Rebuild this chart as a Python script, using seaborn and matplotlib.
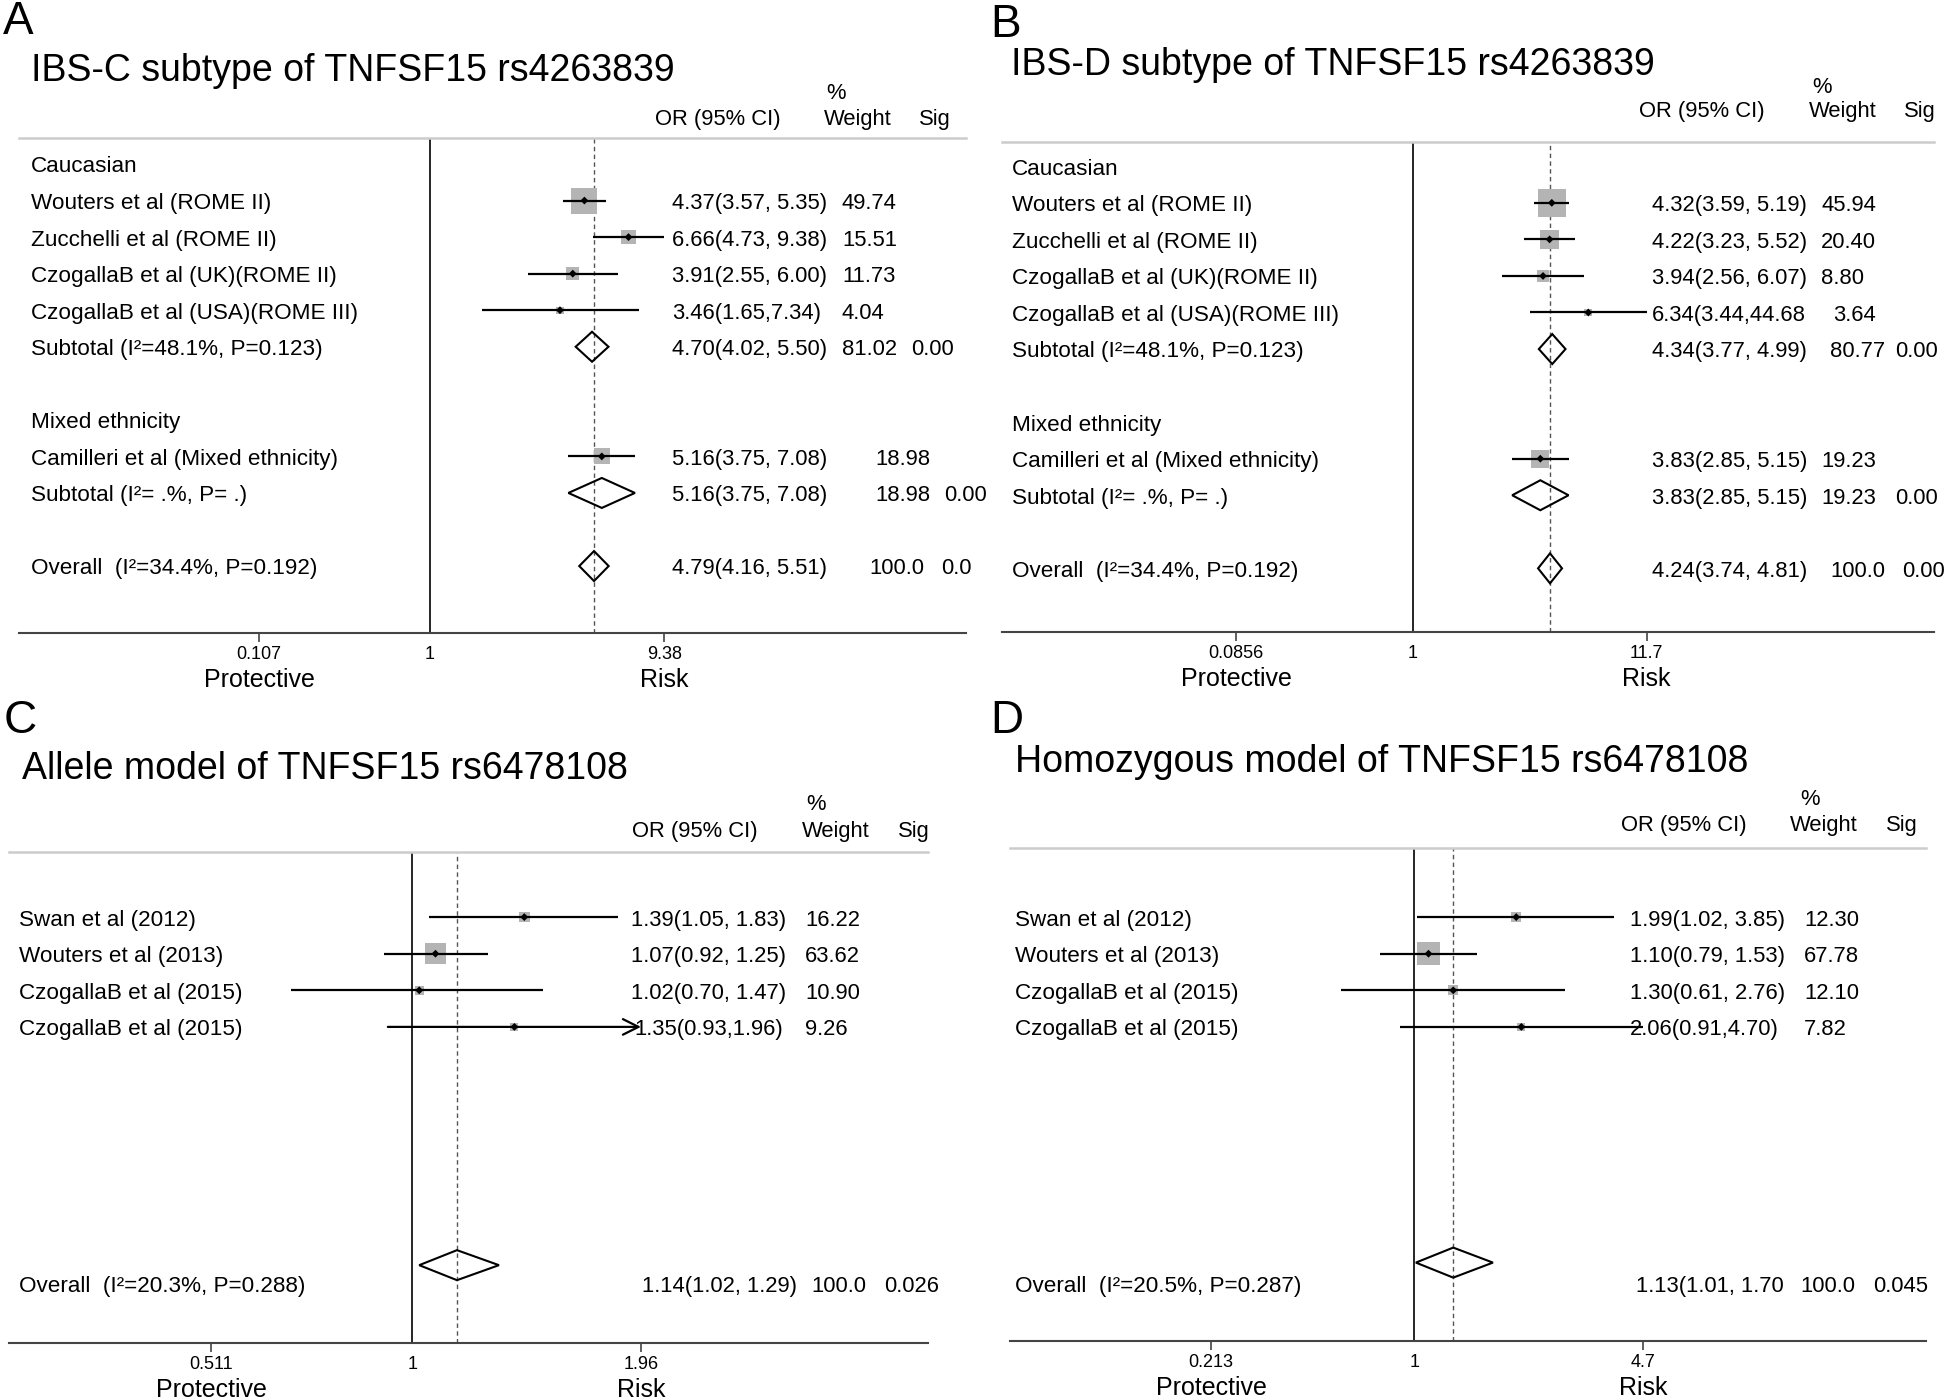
import numpy as np
import pandas as pd
import matplotlib
matplotlib.use("Agg")
import matplotlib.pyplot as plt
import seaborn as sns

sns.set_theme(style="white")
plt.rcParams["font.family"] = ["Liberation Sans", "DejaVu Sans"]
plt.rcParams["text.color"] = "black"
plt.rcParams["xtick.color"] = "black"

W, H = 1946, 1400
nan = np.nan

# ---------------- data ----------------
# A: IBS-C subtype of TNFSF15 rs4263839
a_labels = ["Caucasian", "Wouters et al (ROME II)", "Zucchelli et al (ROME II)",
            "CzogallaB et al (UK)(ROME II)", "CzogallaB et al (USA)(ROME III)",
            "Subtotal (I²=48.1%, P=0.123)", "", "Mixed ethnicity",
            "Camilleri et al (Mixed ethnicity)", "Subtotal (I²= .%, P= .)", "",
            "Overall  (I²=34.4%, P=0.192)"]
a_kind = ["group", "study", "study", "study", "study", "sub", "", "group", "study", "sub", "", "overall"]
a_or = [nan, 4.37, 6.66, 3.91, 3.46, 4.70, nan, nan, 5.16, 5.16, nan, 4.79]
a_lo = [nan, 3.57, 4.73, 2.55, 1.65, 4.02, nan, nan, 3.75, 3.75, nan, 4.16]
a_hi = [nan, 5.35, 9.38, 6.00, 7.34, 5.50, nan, nan, 7.08, 7.08, nan, 5.51]
a_ci_text = ["", "4.37(3.57, 5.35)", "6.66(4.73, 9.38)", "3.91(2.55, 6.00)", "3.46(1.65,7.34)",
             "4.70(4.02, 5.50)", "", "", "5.16(3.75, 7.08)", "5.16(3.75, 7.08)", "", "4.79(4.16, 5.51)"]
a_weight = ["", "49.74", "15.51", "11.73", "4.04", "81.02", "", "", "18.98", "18.98", "", "100.0"]
a_sig = ["", "", "", "", "", "0.00", "", "", "", "0.00", "", "0.0"]
a_ticks = ["0.107", "1", "9.38"]

# B: IBS-D subtype of TNFSF15 rs4263839
b_labels = a_labels
b_kind = a_kind
b_or = [nan, 4.32, 4.22, 3.94, 6.34, 4.34, nan, nan, 3.83, 3.83, nan, 4.24]
b_lo = [nan, 3.59, 3.23, 2.56, 3.44, 3.77, nan, nan, 2.85, 2.85, nan, 3.74]
b_hi = [nan, 5.19, 5.52, 6.07, 44.68, 4.99, nan, nan, 5.15, 5.15, nan, 4.81]
b_ci_text = ["", "4.32(3.59, 5.19)", "4.22(3.23, 5.52)", "3.94(2.56, 6.07)", "6.34(3.44,44.68",
             "4.34(3.77, 4.99)", "", "", "3.83(2.85, 5.15)", "3.83(2.85, 5.15)", "", "4.24(3.74, 4.81)"]
b_weight = ["", "45.94", "20.40", "8.80", "3.64", "80.77", "", "", "19.23", "19.23", "", "100.0"]
b_sig = ["", "", "", "", "", "0.00", "", "", "", "0.00", "", "0.00"]
b_ticks = ["0.0856", "1", "11.7"]

# C: Allele model of TNFSF15 rs6478108
c_labels = ["", "Swan et al (2012)", "Wouters et al (2013)", "CzogallaB et al (2015)",
            "CzogallaB et al (2015)", "", "", "", "", "", "", "Overall  (I²=20.3%, P=0.288)"]
c_kind = ["", "study", "study", "study", "study", "", "", "", "", "", "", "overall"]
c_or = [nan, 1.39, 1.07, 1.02, 1.35, nan, nan, nan, nan, nan, nan, 1.14]
c_lo = [nan, 1.05, 0.92, 0.70, 0.93, nan, nan, nan, nan, nan, nan, 1.02]
c_hi = [nan, 1.83, 1.25, 1.47, 1.96, nan, nan, nan, nan, nan, nan, 1.29]
c_ci_text = ["", "1.39(1.05, 1.83)", "1.07(0.92, 1.25)", "1.02(0.70, 1.47)", "1.35(0.93,1.96)",
             "", "", "", "", "", "", "1.14(1.02, 1.29)"]
c_weight = ["", "16.22", "63.62", "10.90", "9.26", "", "", "", "", "", "", "100.0"]
c_sig = ["", "", "", "", "", "", "", "", "", "", "", "0.026"]
c_ticks = ["0.511", "1", "1.96"]

# D: Homozygous model of TNFSF15 rs6478108
d_labels = c_labels[:11] + ["Overall  (I²=20.5%, P=0.287)"]
d_kind = c_kind
d_or = [nan, 1.99, 1.10, 1.30, 2.06, nan, nan, nan, nan, nan, nan, 1.30]
d_lo = [nan, 1.02, 0.79, 0.61, 0.91, nan, nan, nan, nan, nan, nan, 1.01]
d_hi = [nan, 3.85, 1.53, 2.76, 4.70, nan, nan, nan, nan, nan, nan, 1.70]
d_ci_text = ["", "1.99(1.02, 3.85)", "1.10(0.79, 1.53)", "1.30(0.61, 2.76)", "2.06(0.91,4.70)",
             "", "", "", "", "", "", "1.13(1.01, 1.70"]
d_weight = ["", "12.30", "67.78", "12.10", "7.82", "", "", "", "", "", "", "100.0"]
d_sig = ["", "", "", "", "", "", "", "", "", "", "", "0.045"]
d_ticks = ["0.213", "1", "4.7"]

titles = ["IBS-C subtype of TNFSF15 rs4263839", "IBS-D subtype of TNFSF15 rs4263839",
          "Allele model of TNFSF15 rs6478108", "Homozygous model of TNFSF15 rs6478108"]
letters = ["A", "B", "C", "D"]

# ---------------- layout (figure pixels) ----------------
layouts = [
    dict(left=19, right=966, top=138, bottom=633, x1=430, k=104.7, row0=164, sp=36.55,
         lo_tick_px=259, label_x=31, ci_x=672, wt_x=842, sig_x=911,
         wt_over={8: 875, 9: 875, 11: 869}, sig_over={9: 944, 11: 941},
         head_x=(655, 826, 824, 919), head_y=(117, 91), title_xy=(31, 71), letter_xy=(3, 22),
         box_c=7.0, dia_dy=0.0, arrow_rows=[]),
    dict(left=1002, right=1934, top=142, bottom=632, x1=1412.5, k=95.2, row0=166.3, sp=36.55,
         lo_tick_px=1236, label_x=1012, ci_x=1652, wt_x=1821, sig_x=1895,
         wt_over={4: 1833, 5: 1830, 11: 1830}, sig_over={11: 1902},
         head_x=(1639, 1812, 1809, 1904), head_y=(109, 85), title_xy=(1011, 65), letter_xy=(990, 25),
         box_c=9.0, dia_dy=0.0, arrow_rows=[]),
    dict(left=9, right=928, top=852, bottom=1343, x1=412.5, k=339.5, row0=880.5, sp=36.6,
         lo_tick_px=211, label_x=19, ci_x=631, wt_x=805, sig_x=884,
         wt_over={11: 811}, sig_over={}, ci_over={4: 634, 11: 642},
         head_x=(632, 806, 802, 898), head_y=(829, 802), title_xy=(22, 769), letter_xy=(4, 721),
         box_c=3.6, dia_dy=-0.49, arrow_rows=[4]),
    dict(left=1010, right=1926, top=848, bottom=1341, x1=1414.4, k=148.0, row0=880.5, sp=36.6,
         lo_tick_px=1211, label_x=1015, ci_x=1630, wt_x=1804, sig_x=1873,
         wt_over={11: 1800}, sig_over={}, ci_over={11: 1636},
         head_x=(1621, 1800, 1790, 1886), head_y=(823, 797), title_xy=(1015, 762), letter_xy=(990, 721),
         box_c=4.0, dia_dy=-0.56, arrow_rows=[]),
]

panels = [
    (a_labels, a_kind, a_or, a_lo, a_hi, a_ci_text, a_weight, a_sig, a_ticks),
    (b_labels, b_kind, b_or, b_lo, b_hi, b_ci_text, b_weight, b_sig, b_ticks),
    (c_labels, c_kind, c_or, c_lo, c_hi, c_ci_text, c_weight, c_sig, c_ticks),
    (d_labels, d_kind, d_or, d_lo, d_hi, d_ci_text, d_weight, d_sig, d_ticks),
]

TXT = 15.8     # table numbers / headers
LBL = 16.2     # study labels
DY = 0.08      # glyph centre sits a touch below the text box centre
fig = plt.figure(figsize=(W / 100, H / 100), dpi=100)


def draw_panel(p, data, title, letter):
    labels, kind, orr, lo, hi, ci_text, weight, sig, ticks = data
    row = lambda ypx: (ypx - p["row0"]) / p["sp"]
    xval = lambda xpx: np.exp((xpx - p["x1"]) / p["k"])

    ax = fig.add_axes([p["left"] / W, 1 - p["bottom"] / H,
                       (p["right"] - p["left"]) / W, (p["bottom"] - p["top"]) / H])
    ax.set_xscale("log")

    df = pd.DataFrame(dict(row=np.arange(len(labels)), kind=kind, orr=orr, lo=lo, hi=hi,
                           wtxt=weight))
    st = df[df.kind == "study"].copy()
    st["w"] = st.wtxt.astype(float)
    clip_hi = float(ticks[2])

    # weight boxes
    wmin, wmax = st.w.min(), st.w.max()
    sns.scatterplot(data=st, x="orr", y="row", size="w", sizes=(p["box_c"] * wmin, p["box_c"] * wmax),
                    size_norm=(wmin, wmax), marker="s", color="#b4b4b4", edgecolor="none",
                    legend=False, ax=ax, zorder=2)
    # confidence intervals
    for _, r in st.iterrows():
        if r.row in p["arrow_rows"]:
            ax.annotate("", xy=(r.hi, r.row), xytext=(r.lo, r.row),
                        arrowprops=dict(arrowstyle="->", lw=1.6, color="black", mutation_scale=28,
                                        shrinkA=0, shrinkB=0), zorder=3)
        else:
            ax.hlines(r.row, r.lo, min(r.hi, clip_hi), color="black", lw=1.6, zorder=3)
    sns.scatterplot(data=st, x="orr", y="row", marker="D", s=16, color="black",
                    edgecolor="none", legend=False, ax=ax, zorder=4)

    # pooled diamonds
    pooled = df[df.kind.isin(["sub", "overall"])]
    for _, r in pooled.iterrows():
        yc = r.row + (p["dia_dy"] if r.kind == "overall" else 0.0)
        h = 0.41
        ax.fill([r.lo, r.orr, r.hi, r.orr, r.lo], [yc, yc - h, yc, yc + h, yc],
                facecolor="none", edgecolor="black", lw=1.5, zorder=5)

    overall = df[df.kind == "overall"].orr.iloc[0]
    ax.axvline(1, color="black", lw=1.2, zorder=1)
    ax.axvline(overall, color="#555555", lw=1.0, ls=(0, (3.2, 2.4)), zorder=1)

    ax.set_xlim(xval(p["left"]), xval(p["right"]))
    ax.set_ylim(row(p["bottom"]), row(p["top"]))
    ax.set_xlabel("")
    ax.set_ylabel("")
    ax.set_yticks([])

    # axis: ticks and labels
    tick_pos = [xval(p["lo_tick_px"]), 1.0, clip_hi]
    ax.set_xticks(tick_pos)
    ax.set_xticklabels(ticks)
    ax.xaxis.set_minor_locator(matplotlib.ticker.NullLocator())
    ax.tick_params(axis="x", bottom=True, length=6.5, width=1.2, color="#444444",
                   labelsize=13, labelcolor="black", pad=3)
    ax.xaxis.get_major_ticks()[1].tick1line.set_visible(False)
    for s in ["left", "right"]:
        ax.spines[s].set_visible(False)
    ax.spines["bottom"].set_color("#444444")
    ax.spines["bottom"].set_linewidth(1.5)
    ax.spines["top"].set_color("#cccccc")
    ax.spines["top"].set_linewidth(1.8)
    for xv, txt in [(tick_pos[0], "Protective"), (tick_pos[2], "Risk")]:
        ax.annotate(txt, xy=(xv, 0), xycoords=("data", "axes fraction"), xytext=(0, -33.5),
                    textcoords="offset points", ha="center", va="center", fontsize=18)

    # table text
    ci_over = p.get("ci_over", {})
    for i in range(len(labels)):
        y = i + DY
        if labels[i]:
            ax.text(xval(p["label_x"]), y, labels[i], ha="left", va="center", fontsize=LBL)
        if ci_text[i]:
            ax.text(xval(ci_over.get(i, p["ci_x"])), y, ci_text[i], ha="left", va="center", fontsize=TXT)
        if weight[i]:
            ax.text(xval(p["wt_over"].get(i, p["wt_x"])), y, weight[i], ha="left", va="center",
                    fontsize=TXT)
        if sig[i]:
            ax.text(xval(p["sig_over"].get(i, p["sig_x"])), y, sig[i], ha="left", va="center",
                    fontsize=TXT)

    hx = p["head_x"]
    hy0, hy1 = row(p["head_y"][0]) + DY, row(p["head_y"][1]) + DY
    ax.text(xval(hx[0]), hy0, "OR (95% CI)", ha="left", va="center", fontsize=TXT)
    ax.text(xval(hx[1]), hy1, "%", ha="left", va="center", fontsize=TXT)
    ax.text(xval(hx[2]), hy0, "Weight", ha="left", va="center", fontsize=TXT)
    ax.text(xval(hx[3]), hy0, "Sig", ha="left", va="center", fontsize=TXT)

    tx, ty = p["title_xy"]
    fig.text(tx / W, 1 - ty / H, title, ha="left", va="center", fontsize=27)
    lx, ly = p["letter_xy"]
    fig.text(lx / W, 1 - ly / H, letter, ha="left", va="center", fontsize=33)


for p, data, t, l in zip(layouts, panels, titles, letters):
    draw_panel(p, data, t, l)

fig.savefig("out.png", dpi=100, facecolor="white")
